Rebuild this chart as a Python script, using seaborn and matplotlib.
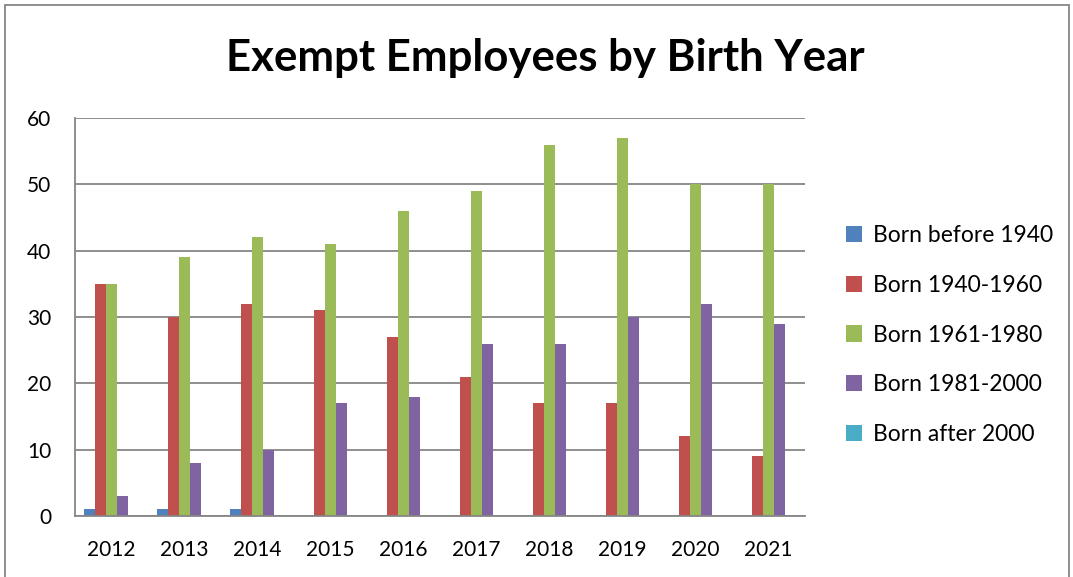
import matplotlib
matplotlib.use("Agg")
import matplotlib.pyplot as plt
import seaborn as sns
import pandas as pd
from matplotlib.patches import Rectangle

years = ["2012", "2013", "2014", "2015", "2016", "2017", "2018", "2019", "2020", "2021"]
series_names = ["Born before 1940", "Born 1940-1960", "Born 1961-1980", "Born 1981-2000", "Born after 2000"]
born_before_1940 = [1, 1, 1, 0, 0, 0, 0, 0, 0, 0]
born_1940_1960 = [35, 30, 32, 31, 27, 21, 17, 17, 12, 9]
born_1961_1980 = [35, 39, 42, 41, 46, 49, 56, 57, 50, 50]
born_1981_2000 = [3, 8, 10, 17, 18, 26, 26, 30, 32, 29]
born_after_2000 = [0, 0, 0, 0, 0, 0, 0, 0, 0, 0]
colors = ["#4F81BD", "#C0504D", "#9BBB59", "#8064A2", "#4BACC6"]

all_vals = [born_before_1940, born_1940_1960, born_1961_1980, born_1981_2000, born_after_2000]
rows = []
for name, vals in zip(series_names, all_vals):
    for y, v in zip(years, vals):
        rows.append({"Year": y, "Series": name, "Count": v})
df = pd.DataFrame(rows)

sns.set_theme(style="white")
plt.rcParams['font.family'] = ['Lato', 'DejaVu Sans']
plt.rcParams['text.color'] = 'black'
plt.rcParams['xtick.color'] = 'black'
plt.rcParams['ytick.color'] = 'black'

fig = plt.figure(figsize=(10.73, 5.77), dpi=100)
ax = fig.add_axes([75/1073, 1-516/577, 730/1073, 398/577])

sns.barplot(data=df, x="Year", y="Count", hue="Series", hue_order=series_names,
            palette=colors, width=0.76, saturation=1, ax=ax, legend=True,
            edgecolor="none", linewidth=0)

ax.set_ylim(0, 60)
ax.set_xlim(-0.5, 9.5)
ax.set_yticks(range(0, 61, 10))
ax.yaxis.grid(True, color="#868686", linewidth=1.3)
ax.set_axisbelow(True)
ax.set_xlabel("")
ax.set_ylabel("")
for s in ["top", "right"]:
    ax.spines[s].set_visible(False)
for s in ["left", "bottom"]:
    ax.spines[s].set_color("#868686")
    ax.spines[s].set_linewidth(1.3)

ax.set_xticks([i for i in range(10)])
ax.set_xticklabels(years)
ax.tick_params(axis="x", length=0, pad=17, labelsize=15, labelcolor="black")
ax.set_xticks([i - 0.5 for i in range(11)], minor=True)
ax.tick_params(axis="x", which="minor", length=8, width=1.3, color="#868686", direction="out")
ax.tick_params(axis="y", length=7, width=1.3, color="#868686", direction="out", pad=10,
               labelsize=15, labelcolor="black")

handles, labels = ax.get_legend_handles_labels()
leg = ax.legend(handles, labels, loc="center left", bbox_to_anchor=(825/1073, 1-335/577),
                bbox_transform=fig.transFigure, frameon=False, fontsize=16.5,
                handlelength=0.7, handleheight=0.7, handletextpad=0.5, labelspacing=1.25)
for t in leg.get_texts():
    t.set_color("black")

fig.text(545/1073, 1-58/577, "Exempt Employees by Birth Year", ha="center", va="center",
         fontsize=31.5, fontweight="bold", color="black")

fig.patches.append(Rectangle((5/1073, -0.05), 1064/1073, 1.05 - 5/577, transform=fig.transFigure,
                             fill=False, edgecolor="#868686", linewidth=1.3))

fig.savefig("out.png", dpi=100)
